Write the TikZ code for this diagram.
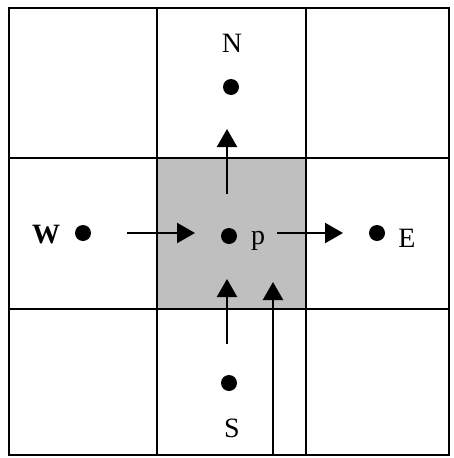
\documentclass[tikz,border=0pt]{standalone}
\usepackage{fontspec}
\setmainfont{Liberation Serif}
\usetikzlibrary{arrows.meta}
\begin{document}
\begin{tikzpicture}[x=1pt,y=-1pt,
  gridline/.style={line width=2.6pt},
  flux/.style={line width=2.4pt,-{Triangle[width=20pt,length=18pt]}},
  dotnode/.style={circle,fill=black,inner sep=0pt,minimum size=16pt},
  lbl/.style={font=\fontsize{28}{30}\selectfont,inner sep=0pt}]
\useasboundingbox (0,0) rectangle (453,458);
% control volume around P
\fill[black!25] (157,158) rectangle (306,309);
% grid of cells
\draw[gridline] (9,8) rectangle (449,455);
\draw[gridline] (157,8) -- (157,455);
\draw[gridline] (306,8) -- (306,455);
\draw[gridline] (9,158) -- (449,158);
\draw[gridline] (9,309) -- (449,309);
% grid points
\node[dotnode] (P) at (229,236) {};
\node[dotnode] (N) at (231,87) {};
\node[dotnode] (S) at (229,383) {};
\node[dotnode] (W) at (83,233) {};
\node[dotnode] (E) at (377,233) {};
% labels
\node[lbl] (lN) at (232,43) {N};
\node[lbl] (lS) at (232,428) {S};
\node[lbl,font=\fontsize{28}{30}\selectfont\bfseries] (lW) at (46,235) {W};
\node[lbl] (lE) at (407,238) {E};
\node[lbl] (lp) at (258,241) {p};
% flux arrows
\coordinate (wa) at (127,233); \coordinate (wb) at (195,233);
\coordinate (ea) at (277,233); \coordinate (eb) at (343,233);
\coordinate (na) at (227,194); \coordinate (nb) at (227,129);
\coordinate (sa) at (227,344); \coordinate (sb) at (227,279);
\coordinate (ta) at (273,455); \coordinate (tb) at (273,282);
\draw[flux] (wa) -- (wb);
\draw[flux] (ea) -- (eb);
\draw[flux] (na) -- (nb);
\draw[flux] (sa) -- (sb);
\draw[flux] (ta) -- (tb);
\end{tikzpicture}
\end{document}
